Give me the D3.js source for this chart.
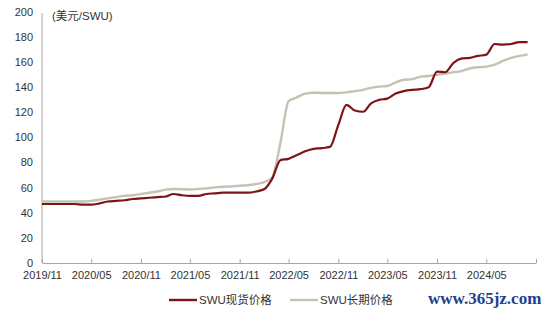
<!DOCTYPE html>
<html>
<head>
<meta charset="utf-8">
<script src="https://cdn.jsdelivr.net/npm/d3@7"></script>
<style>
  body { margin: 0; background: #fff; }
  svg text { font-family: "Liberation Sans", Arial, "Noto Sans CJK SC", sans-serif; }
</style>
</head>
<body>
<div id="chart"></div>
<script>
// SWU spot price (monthly, USD/SWU)
const spotDates = ["2019-11","2019-12","2020-01","2020-02","2020-03","2020-04","2020-05","2020-06","2020-07","2020-08","2020-09","2020-10",
  "2020-11","2020-12","2021-01","2021-02","2021-03","2021-04","2021-05","2021-06","2021-07","2021-08","2021-09","2021-10",
  "2021-11","2021-12","2022-01","2022-02","2022-03","2022-04","2022-05","2022-06","2022-07","2022-08","2022-09","2022-10",
  "2022-11","2022-12","2023-01","2023-02","2023-03","2023-04","2023-05","2023-06","2023-07","2023-08","2023-09","2023-10",
  "2023-11","2023-12","2024-01","2024-02","2024-03","2024-04","2024-05","2024-06","2024-07","2024-08","2024-09","2024-10"];
const spotValues = [47,47,47,47,47,46.5,46.5,47.5,49,49.5,50,51,
  51.5,52,52.5,53,55,54,53.5,53.5,55,55.5,56,56,
  56,56,57,59,67,82,83,86,89,91,91.5,92.5,
  110,126,121.5,120.5,127,130,131,135,137,138,138.5,140,
  152.5,152,159.5,163,163.5,165,166,174.5,174,174.5,176,176];

// SWU long-term price
const termDates = ["2019-11","2019-12","2020-01","2020-02","2020-03","2020-04","2020-05","2020-06","2020-07","2020-08","2020-09","2020-10",
  "2020-11","2020-12","2021-01","2021-02","2021-03","2021-04","2021-05","2021-06","2021-07","2021-08","2021-09","2021-10",
  "2021-11","2021-12","2022-01","2022-02","2022-03","2022-04","2022-05","2022-06","2022-07","2022-08","2022-09","2022-10",
  "2022-11","2022-12","2023-01","2023-02","2023-03","2023-04","2023-05","2023-06","2023-07","2023-08","2023-09","2023-10",
  "2023-11","2023-12","2024-01","2024-02","2024-03","2024-04","2024-05","2024-06","2024-07","2024-08","2024-09","2024-10"];
const termValues = [49,49,49,49,49,49,49.5,50.5,51.5,52.5,53.5,54,
  55,56,57,58.5,59,58.8,58.6,59,59.5,60.3,60.8,61,
  61.6,62,63,64.5,68,96,129,132,135,135.7,135.5,135.5,
  135.5,136,137,138,139.5,140.5,141,144,146,146.5,148.5,149,
  150,151,152,153,155,156,156.5,158,161,163.5,165,166.3];

const xTickLabels = ["2019/11","2020/05","2020/11","2021/05","2021/11","2022/05","2022/11","2023/05","2023/11","2024/05",""];
const yTicks = [0,20,40,60,80,100,120,140,160,180,200];
const seriesNames = ["SWU现货价格","SWU长期价格"];
const colors = ["#7d1416","#c3c3b5"];

const W = 550, H = 314;
const parse = d3.timeParse("%Y-%m");

const svg = d3.select("#chart").append("svg")
    .attr("width", W)
    .attr("height", H);

const x = d3.scaleTime()
    .domain([parse("2019-11"), parse("2024-11")])
    .range([42, 536]);
const y = d3.scaleLinear().domain([0, 200]).range([263, 12]);

// y axis labels
svg.selectAll(".ylab").data(yTicks).enter().append("text")
    .attr("x", 33)
    .attr("y", d => y(d))
    .attr("dy", "0.35em")
    .attr("text-anchor", "end")
    .attr("font-size", 11)
    .attr("fill", "#333")
    .text(d => d);

svg.append("line")
    .attr("x1", 42).attr("x2", 42)
    .attr("y1", y(200) + 1).attr("y2", y(0))
    .attr("stroke", "#a6a6a6");

// x axis
const tickDates = xTickLabels.map((d, i) => d3.timeMonth.offset(parse("2019-11"), i * 6));
const xAxis = d3.axisBottom(x)
    .tickValues(tickDates)
    .tickSizeInner(-4)
    .tickSizeOuter(0)
    .tickFormat((d, i) => xTickLabels[i]);

const gx = svg.append("g")
    .attr("transform", `translate(0,${y(0)})`)
    .call(xAxis);
gx.select(".domain").attr("stroke", "#a6a6a6");
gx.selectAll(".tick line").attr("stroke", "#a6a6a6");
gx.selectAll(".tick text")
    .attr("y", 8)
    .attr("font-size", 11)
    .attr("fill", "#333")
    .attr("font-family", "Liberation Sans, Arial, sans-serif");

svg.append("text")
    .attr("x", 52).attr("y", 20)
    .attr("font-size", 11.5)
    .attr("fill", "#333")
    .text("(美元/SWU)");

const line = d3.line()
    .x(d => x(d.date))
    .y(d => y(d.value))
    .curve(d3.curveMonotoneX);

const spot = spotDates.map((d, i) => ({ date: parse(d), value: spotValues[i] }));
const term = termDates.map((d, i) => ({ date: parse(d), value: termValues[i] }));

svg.append("path").datum(term)
    .attr("d", line)
    .attr("fill", "none")
    .attr("stroke", colors[1])
    .attr("stroke-width", 2.4);

svg.append("path").datum(spot)
    .attr("d", line)
    .attr("fill", "none")
    .attr("stroke", colors[0])
    .attr("stroke-width", 2.2);

// legend
const legendX = [169, 290];
seriesNames.forEach((name, i) => {
    const g = svg.append("g").attr("transform", `translate(${legendX[i]},300)`);
    g.append("line")
        .attr("x1", 0).attr("x2", 28)
        .attr("stroke", colors[i])
        .attr("stroke-width", 2.4);
    g.append("text")
        .attr("x", 30)
        .attr("dy", "0.35em")
        .attr("font-size", 11.5)
        .attr("fill", "#333")
        .text(name);
});

// watermark
svg.append("text")
    .attr("x", 428).attr("y", 304)
    .attr("font-size", 17)
    .attr("font-weight", "bold")
    .attr("fill", "#1f3f8f")
    .style("font-family", "Liberation Serif, DejaVu Serif, serif")
    .text("www.365jz.com");
</script>
</body>
</html>
